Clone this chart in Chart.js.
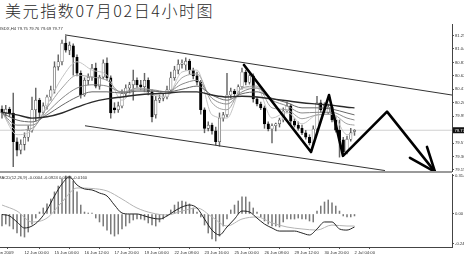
<!DOCTYPE html>
<html>
<head>
<meta charset="utf-8">
<script src="https://cdn.jsdelivr.net/npm/chart.js@4.4.1/dist/chart.umd.min.js"></script>
<style>
  html, body { margin: 0; padding: 0; background: #fff; }
  body { width: 464px; height: 257px; overflow: hidden; position: relative; font-family: "Liberation Sans", Arial, sans-serif; }
  #title { position: absolute; left: 5px; top: 0; font: 300 16px/21px "Noto Sans CJK SC", sans-serif; letter-spacing: 1.6px; color: #2a2a2a; white-space: nowrap; }
  .hdr { position: absolute; font-size: 4.2px; line-height: 5px; color: #333; white-space: nowrap; }
  canvas { position: absolute; left: -12px; }
  #sep { position: absolute; left: 0; top: 171px; width: 452px; height: 2px; background: #9a9a9a; }
</style>
</head>
<body>
<div id="title">美元指数07月02日4小时图</div>
<canvas id="price" width="476" height="148" style="top:24px"></canvas>
<canvas id="osc" width="476" height="85" style="top:172px"></canvas>
<div id="sep"></div>
<div class="hdr" style="left:-2px;top:26px">USDX,H4 79.75 79.76 79.69 79.77</div>
<div class="hdr" style="left:-2px;top:175px">MACD(12,26,9) -0.0004 -0.0924 0.0096 -0.0160</div>
<script>
// 4-hour USDX candles, one entry per bar (bar 0 = 11 Jun 2009 00:00)
const opens  = [80.10,80.04,80.10,80.04,79.59,79.46,79.55,79.66,79.77,80.09,
                80.24,80.05,80.15,80.29,80.40,80.76,80.84,81.13,81.02,81.09,
                80.91,80.66,80.32,80.55,80.60,80.74,80.46,80.60,80.82,80.59,
                80.12,80.09,80.15,80.34,80.43,80.48,80.55,80.48,80.45,80.55,
                80.37,80.01,80.24,80.27,80.29,80.40,80.59,80.71,80.80,80.79,
                80.85,80.71,80.62,80.52,80.09,79.80,79.85,79.76,79.59,79.96,
                80.01,80.32,80.38,80.34,80.45,80.68,80.52,80.62,80.26,80.18,
                80.12,79.87,79.79,79.84,79.87,79.93,80.07,80.15,79.91,79.85,
                79.80,79.73,79.66,79.57,79.79,80.20,80.09,80.05,80.13,79.93,
                79.77,79.62,79.43,79.63,79.75];
const highs  = [80.15,80.16,80.13,80.35,79.65,79.62,79.73,79.84,80.29,80.43,
                80.27,80.20,80.32,80.46,80.84,80.95,81.18,81.24,81.15,81.12,
                80.95,80.70,80.59,80.65,80.80,80.82,80.63,80.87,80.90,80.62,
                80.20,80.21,80.40,80.48,80.52,80.71,80.59,80.55,80.66,80.59,
                80.40,80.30,80.32,80.34,80.46,80.68,80.77,80.87,80.87,80.90,
                80.88,80.74,80.68,80.55,80.12,79.90,79.88,79.82,80.04,80.05,
                80.66,80.43,80.41,80.48,80.74,80.71,80.65,80.65,80.29,80.21,
                80.15,79.90,79.87,79.88,79.96,80.12,80.21,80.18,79.95,79.90,
                79.85,79.77,79.70,79.84,80.30,80.24,80.20,80.18,80.16,79.98,
                79.93,79.66,79.68,79.80,79.78];
const lows   = [79.96,79.99,79.98,79.20,79.37,79.40,79.46,79.60,79.74,79.91,
                79.96,80.02,80.10,80.24,80.35,80.71,80.79,80.99,80.95,80.63,
                80.62,80.27,80.30,80.48,80.55,80.43,80.41,80.57,80.55,79.96,
                80.04,80.05,80.12,80.29,80.35,80.24,80.43,80.40,80.37,80.32,
                79.90,79.96,80.20,80.23,80.26,80.37,80.55,80.65,80.74,80.71,
                80.65,80.57,80.48,80.02,79.73,79.76,79.71,79.54,79.52,79.91,
                79.98,80.27,80.30,80.32,80.41,80.48,80.49,80.21,80.15,80.09,
                79.80,79.76,79.57,79.76,79.82,79.90,80.04,79.87,79.82,79.77,
                79.70,79.63,79.54,79.52,79.76,80.05,80.05,80.02,79.90,79.74,
                79.35,79.40,79.40,79.60,79.69];
const closes = [80.04,80.10,80.04,79.59,79.46,79.55,79.66,79.77,80.09,80.24,
                80.05,80.15,80.29,80.40,80.76,80.84,81.13,81.02,81.10,80.91,
                80.66,80.32,80.55,80.60,80.74,80.46,80.60,80.82,80.59,80.04,
                80.09,80.15,80.34,80.43,80.48,80.55,80.48,80.45,80.55,80.37,
                79.98,80.24,80.27,80.29,80.40,80.59,80.71,80.80,80.82,80.85,
                80.71,80.62,80.52,80.09,79.80,79.85,79.76,79.59,79.96,80.01,
                80.32,80.38,80.34,80.45,80.68,80.52,80.62,80.26,80.18,80.12,
                79.87,79.79,79.84,79.87,79.93,80.07,80.15,79.91,79.85,79.80,
                79.73,79.66,79.57,79.79,80.20,80.09,80.16,80.13,79.93,79.77,
                79.62,79.43,79.63,79.73,79.77];
const lastPrice = 79.77;

// moving-average ribbon, sampled every 4 bars
const maBars = [0,4,8,12,16,20,24,28,32,36,40,44,48,52,56,60,64,68,72,76,80,84,88,92,94];
const maFast = [80.05,79.70,79.77,80.16,80.59,80.84,80.71,80.63,80.24,80.43,80.32,80.30,80.68,80.71,80.01,79.96,80.43,80.43,79.96,80.05,79.87,80.01,80.02,79.70,79.74];
const maQuick = [80.05,79.77,79.80,80.12,80.43,80.63,80.60,80.55,80.35,80.43,80.40,80.34,80.59,80.65,80.20,80.09,80.43,80.46,80.12,80.09,79.95,80.01,80.02,79.87,79.85];
const maMid  = [80.04,79.85,79.85,80.05,80.27,80.43,80.48,80.46,80.37,80.40,80.40,80.37,80.49,80.55,80.27,80.18,80.37,80.43,80.24,80.15,80.04,80.05,80.05,79.96,79.93];
const maLong = [80.04,79.93,79.90,80.01,80.16,80.29,80.37,80.37,80.35,80.38,80.38,80.37,80.41,80.46,80.32,80.24,80.34,80.37,80.27,80.20,80.12,80.12,80.10,80.04,80.01];
const maSlow = [80.05,80.01,79.96,79.98,80.04,80.13,80.21,80.26,80.29,80.32,80.34,80.35,80.37,80.37,80.32,80.29,80.30,80.29,80.26,80.23,80.20,80.18,80.16,80.13,80.12];

// trend channel and projected wave path (bar position, price)
const upperBars = [16.8, 120];     const upperPrices = [81.26, 80.32];
const lowerBars = [22.13, 102.13]; const lowerPrices = [79.84, 79.14];
const waveBars = [64.53, 82.4, 87.2, 90.93, 102.67, 115.47];
const wavePrices = [80.79, 79.43, 80.32, 79.37, 80.06, 79.12];
const barbLeftBars = [113.33, 115.47];  const barbLeftPrices = [79.51, 79.12];
const barbRightBars = [108.8, 115.47];  const barbRightPrices = [79.34, 79.12];

// MACD pane
const macdHist = [-0.098,-0.082,-0.098,-0.122,-0.155,-0.180,-0.188,-0.147,-0.082,-0.033,
                   0.016, 0.049, 0.082, 0.122, 0.180, 0.228, 0.286, 0.310, 0.310, 0.269,
                   0.180, 0.073, 0.016, 0.008, 0.008,-0.033,-0.065,-0.098,-0.131,-0.163,
                  -0.180,-0.163,-0.122,-0.098,-0.073,-0.049,-0.041,-0.041,-0.049,-0.073,
                  -0.090,-0.098,-0.065,-0.041,-0.016, 0.033, 0.073, 0.098, 0.106, 0.098,
                   0.082, 0.049, 0.016,-0.024,-0.090,-0.155,-0.204,-0.220,-0.180,-0.098,
                  -0.041, 0.033, 0.073, 0.106, 0.139, 0.139, 0.098, 0.049, 0.016,-0.024,
                  -0.057,-0.082,-0.098,-0.098,-0.106,-0.065,-0.041,-0.041,-0.041,-0.033,
                  -0.041,-0.041,-0.057,-0.065, 0.024, 0.065, 0.098, 0.114, 0.090, 0.065,
                   0.024,-0.016,-0.024,-0.024,-0.016];
const macdBars = [0,2,4,6,8,10,12,14,16,18,20,22,24,26,28,30,32,34,36,38,40,42,44,46,
                  48,50,52,54,56,58,60,62,64,66,68,70,72,74,76,78,80,82,84,86,88,90,92,94];
const macdLine = [-0.004,-0.016,-0.065,-0.114,-0.098,-0.049,0.033,0.147,0.245,0.302,0.237,0.204,
                   0.196,0.171,0.147,0.073,0.008,0.000,0.000,-0.016,-0.033,-0.041,-0.016,0.024,
                   0.057,0.073,0.049,-0.041,-0.131,-0.171,-0.106,-0.041,0.024,0.016,-0.033,-0.082,
                  -0.114,-0.139,-0.139,-0.139,-0.155,-0.171,-0.122,-0.065,-0.065,-0.122,-0.131,-0.106];
const signalBars = [0,4,8,12,16,20,24,28,32,36,40,44,48,52,56,60,64,68,72,76,80,84,88,92,94];
const signalLine = [0.073,0.024,-0.065,-0.033,0.098,0.212,0.208,0.188,0.122,0.049,0.008,-0.008,
                    0.024,0.049,-0.024,-0.098,-0.041,-0.024,-0.073,-0.106,-0.122,-0.131,-0.090,-0.098,-0.098];

// axis labels
const priceTicks = [81.25, 81.04, 80.83, 80.62, 80.41, 80.20, 79.99, 79.57, 79.36, 79.15];
const oscTicks = [0.314, 0, -0.24];
const oscTickLabels = ['0.314', '0.00', '-0.24'];
const timeTickBars = [-3, 6, 14, 22, 30, 38, 46, 54, 62, 70, 78, 86, 94];
const timeTickLabels = ['11 Jun 2009', '12 Jun 00:00', '15 Jun 04:00', '16 Jun 12:00', '17 Jun 20:00',
  '19 Jun 04:00', '22 Jun 08:00', '23 Jun 16:00', '25 Jun 00:00', '26 Jun 08:00',
  '29 Jun 12:00', '30 Jun 20:00', '2 Jul 04:00'];

// ---- drawing ----
const FONT = 'Liberation Sans';
Chart.defaults.font.family = FONT;
const X_MIN = -3.733, X_MAX = 120;
const pts = (xs, ys) => xs.map((x, i) => ({ x, y: ys[i] }));
const line = (data, color, width, order, extra) => Object.assign({
  type: 'line', data, borderColor: color, borderWidth: width, pointRadius: 0,
  tension: 0, order, fill: false
}, extra || {});
const smooth = { tension: 0.4, cubicInterpolationMode: 'monotone' };
const bull = i => closes[i] >= opens[i];

const lastPriceTag = {
  id: 'lastPriceTag',
  afterDraw(chart) {
    const { ctx, chartArea, scales } = chart;
    const py = scales.y.getPixelForValue(lastPrice);
    ctx.save();
    ctx.fillStyle = '#111';
    ctx.fillRect(chartArea.right + 1, py - 3, 12, 6);
    ctx.fillStyle = '#fff';
    ctx.font = '4.2px "' + FONT + '"';
    ctx.textBaseline = 'middle';
    ctx.fillText(lastPrice.toFixed(2), chartArea.right + 2.5, py + 0.3);
    ctx.restore();
  }
};

const rightAxis = (min, max, ticks, label) => ({
  position: 'right', min, max, stacked: false,
  afterBuildTicks: s => { s.ticks = ticks.map(v => ({ value: v })); },
  afterFit: s => { s.width = 12; s.paddingTop = 0; s.paddingBottom = 0; },
  ticks: { autoSkip: false, font: { size: 4.2 }, color: '#333', padding: 1, callback: label },
  grid: { drawOnChartArea: false, drawTicks: true, tickLength: 2, color: '#555' },
  border: { display: true, color: '#444', width: 1 }
});

new Chart(document.getElementById('price'), {
  type: 'bar',
  data: {
    datasets: [
      line(pts(waveBars, wavePrices), '#000', 2.6, 0, { borderJoinStyle: 'round', borderCapStyle: 'round', clip: false }),
      line(pts(barbLeftBars, barbLeftPrices), '#000', 2.6, 0, { borderCapStyle: 'round', clip: false }),
      line(pts(barbRightBars, barbRightPrices), '#000', 2.6, 0, { borderCapStyle: 'round', clip: false }),
      line(pts(upperBars, upperPrices), '#333', 1, 1),
      line(pts(lowerBars, lowerPrices), '#333', 1, 1),
      line(pts(maBars, maSlow), '#2a2a2a', 1.4, 2, smooth),
      line(pts(maBars, maLong), '#666', 1, 2, smooth),
      line(pts(maBars, maMid), '#888', 1, 2, smooth),
      line(pts(maBars, maQuick), '#a2a2a2', 1, 2, smooth),
      line(pts(maBars, maFast), '#c4c4c4', 1, 2, smooth),
      {
        type: 'bar', order: 3, grouped: false, barThickness: 2.5,
        data: opens.map((o, i) => ({ x: i, y: [o, closes[i]] })),
        backgroundColor: c => bull(c.dataIndex) ? '#fff' : '#000',
        borderColor: c => bull(c.dataIndex) ? '#444' : '#000',
        borderWidth: 0.6, borderSkipped: false
      },
      {
        type: 'bar', order: 4, grouped: false, barThickness: 0.8,
        data: lows.map((l, i) => ({ x: i, y: [l, highs[i]] })),
        backgroundColor: '#666'
      },
      line(pts([X_MIN, X_MAX], [lastPrice, lastPrice]), '#d0d0d0', 1, 5)
    ]
  },
  options: {
    responsive: false, animation: false, events: [],
    layout: { padding: 0 },
    plugins: { legend: { display: false }, tooltip: { enabled: false } },
    scales: {
      x: { type: 'linear', display: false, min: X_MIN, max: X_MAX, offset: false },
      y: rightAxis(79.1175, 81.43, priceTicks, v => v.toFixed(2))
    }
  },
  plugins: [lastPriceTag]
});

new Chart(document.getElementById('osc'), {
  type: 'bar',
  data: {
    datasets: [
      line(pts(macdBars, macdLine), '#222', 1, 1, smooth),
      line(pts(signalBars, signalLine), '#b4b4b4', 1, 2, smooth),
      {
        type: 'bar', order: 3, grouped: false, barThickness: 0.9,
        data: macdHist.map((v, i) => ({ x: i, y: v })),
        backgroundColor: '#7a7a7a'
      }
    ]
  },
  options: {
    responsive: false, animation: false, events: [],
    layout: { padding: { top: 2 } },
    plugins: { legend: { display: false }, tooltip: { enabled: false } },
    scales: {
      x: {
        type: 'linear', position: 'bottom', min: X_MIN, max: X_MAX, offset: false,
        afterBuildTicks: s => { s.ticks = timeTickBars.map(v => ({ value: v })); },
        afterFit: s => { s.height = 10; s.paddingLeft = 0; s.paddingRight = 0; },
        ticks: { align: 'start', autoSkip: false, maxRotation: 0, minRotation: 0,
                 font: { size: 4.2 }, color: '#333', padding: 1,
                 callback: (v, i) => timeTickLabels[i] },
        grid: { drawOnChartArea: false, drawTicks: true, tickLength: 2, color: '#555' },
        border: { display: true, color: '#444', width: 1 }
      },
      y: rightAxis(-0.269, 0.326, oscTicks, (v, i) => oscTickLabels[i])
    }
  }
});
</script>
</body>
</html>
